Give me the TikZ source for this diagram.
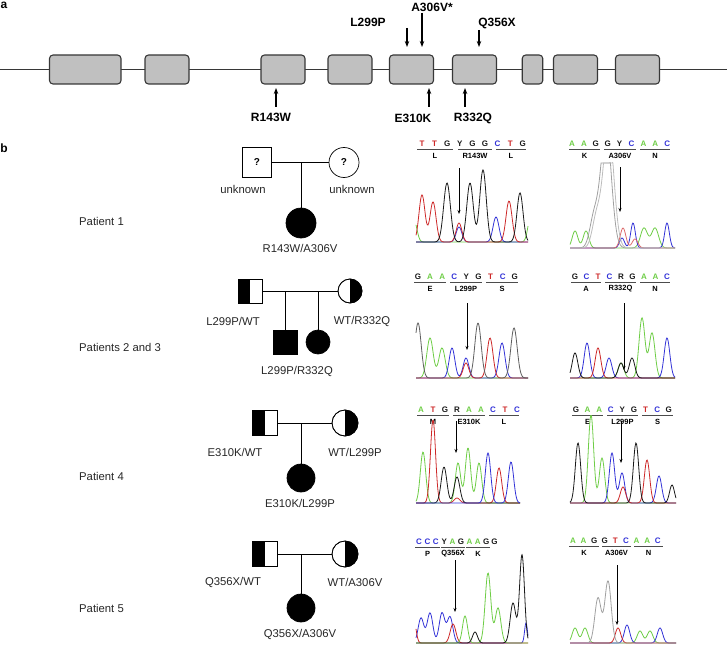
\documentclass[tikz,border=0pt]{standalone}
\usepackage{fontspec}
\setmainfont{Liberation Sans}
\usetikzlibrary{arrows.meta}
\definecolor{cR}{RGB}{205,40,40}
\definecolor{cG}{RGB}{110,205,70}
\definecolor{cB}{RGB}{50,50,215}
\definecolor{cK}{RGB}{25,25,25}
\definecolor{cS}{RGB}{160,160,160}
\definecolor{exonfill}{RGB}{192,192,192}
\definecolor{exonline}{RGB}{55,55,55}
\newcommand\seqrow[5]{%
  \foreach \l/\c [count=\i] in {#5} \node[seqlet,text=\c] (#1-\i) at ({#2+(\i-1)*#3},#4) {\l};}
\newcommand\codonlab[5]{%
  \draw[seqline] (#2,#4) -- (#3,#4);
  \node[aalab] (#1) at ({(#2+#3)/2},#4+6) {#5};}
\newcommand\trace[4]{\draw[#1,tracel] plot[domain=#2,samples=170,smooth] (\x,{#3-(#4)});}
\begin{document}
\begin{tikzpicture}[x=1pt,y=-1pt,
  declare function={g(\x,\c,\h,\w)=\h*exp(-min(((\x-\c)/\w)^2,30));},
  exon/.style={draw=exonline,fill=exonfill,rounded corners=3.5pt,line width=1.1pt,inner sep=0pt,minimum height=29pt},
  backbone/.style={draw=exonline,line width=1.1pt},
  mutlab/.style={font=\fontsize{12}{12}\selectfont\bfseries,inner sep=0pt},
  mutarrow/.style={line width=1.1pt,-{Stealth[length=6pt,width=4.5pt]}},
  panlab/.style={font=\fontsize{12}{12}\selectfont\bfseries,inner sep=0pt},
  pedlab/.style={font=\fontsize{11.3}{12}\selectfont,inner sep=0pt,text=black!85},
  sq/.style={draw,line width=0.7pt,minimum size=#1,inner sep=0pt,fill=white},
  circ/.style={draw,circle,line width=0.7pt,minimum size=#1,inner sep=0pt,fill=white},
  pedline/.style={line width=0.7pt},
  seqlet/.style={font=\fontsize{8}{8}\selectfont\bfseries,inner sep=0pt},
  aalab/.style={font=\fontsize{7.5}{8}\selectfont\bfseries,inner sep=0pt},
  seqline/.style={line width=0.8pt,draw=black!70},
  tracel/.style={line width=0.8pt},
  chromarrow/.style={line width=0.6pt,-{Stealth[length=4pt,width=3pt]}}
]
\useasboundingbox (0,0) rectangle (727,655);
% ---------------- panel a ----------------
\node[panlab] (la) at (4,5) {a};
\coordinate (bbL) at (0,69.5);
\coordinate (bbR) at (727,69.5);
\draw[backbone] (bbL) -- (bbR);
\node[exon,minimum width=71.5pt] (e1) at (85.25,69.5) {};
\node[exon,minimum width=44pt] (e2) at (167,69.5) {};
\node[exon,minimum width=44pt] (e3) at (283,69.5) {};
\node[exon,minimum width=44pt] (e4) at (350,69.5) {};
\node[exon,minimum width=44pt] (e5) at (411.5,69.5) {};
\node[exon,minimum width=44pt] (e6) at (474.5,69.5) {};
\node[exon,minimum width=20.5pt] (e7) at (532.5,69.5) {};
\node[exon,minimum width=44pt] (e8) at (575.5,69.5) {};
\node[exon,minimum width=44pt] (e9) at (637.5,69.5) {};
% mutations above
\node[mutlab] (mL299P) at (368,22) {L299P};
\node[mutlab] (mA306V) at (432,7) {A306V*};
\node[mutlab] (mQ356X) at (497,23) {Q356X};
\coordinate (tL299P) at (407,28); \coordinate (hL299P) at (407,47);
\coordinate (tA306V) at (422,13); \coordinate (hA306V) at (422,47);
\coordinate (tQ356X) at (479,30); \coordinate (hQ356X) at (479,47);
\draw[mutarrow] (tL299P) -- (hL299P);
\draw[mutarrow] (tA306V) -- (hA306V);
\draw[mutarrow] (tQ356X) -- (hQ356X);
% mutations below
\node[mutlab] (mR143W) at (271,117) {R143W};
\node[mutlab] (mE310K) at (413,118) {E310K};
\node[mutlab] (mR332Q) at (473,118) {R332Q};
\coordinate (tR143W) at (276,107); \coordinate (hR143W) at (276,88);
\coordinate (tE310K) at (429,107); \coordinate (hE310K) at (429,88);
\coordinate (tR332Q) at (465,107); \coordinate (hR332Q) at (465,88);
\draw[mutarrow] (tR143W) -- (hR143W);
\draw[mutarrow] (tE310K) -- (hE310K);
\draw[mutarrow] (tR332Q) -- (hR332Q);
% ---------------- panel b ----------------
\node[panlab] (lb) at (4,148) {b};
\node[pedlab,anchor=west] (p1) at (79,221) {Patient 1};
\node[pedlab,anchor=west] (p23) at (79,347) {Patients 2 and 3};
\node[pedlab,anchor=west] (p4) at (79,476) {Patient 4};
\node[pedlab,anchor=west] (p5) at (79,608) {Patient 5};
% pedigree 1
\node[sq=29.5pt] (f1) at (257,162.5) {\bfseries ?};
\node[circ=30pt] (m1) at (344,162.5) {\bfseries ?};
\node[circ=30pt,fill=black] (c1) at (301,223) {};
\draw[pedline] (f1.east) -- (m1.west);
\draw[pedline] (c1.north |- f1.east) -- (c1.north);
\node[pedlab] (uf1) at (243,189) {unknown};
\node[pedlab] (um1) at (352,189) {unknown};
\node[pedlab] (g1) at (300,248) {R143W/A306V};
% pedigree 2
\node[sq=24pt] (f2) at (250,291) {};
\node[circ=24pt] (m2) at (350,291) {};
\fill (f2.north west) rectangle (f2.south);
\begin{scope}\clip (350,291) circle[radius=12]; \fill (350,278) rectangle (364,304);\end{scope}
\node[sq=24pt,fill=none] at (250,291) {};
\node[circ=24pt,fill=none] at (350,291) {};
\node[sq=24pt,fill=black] (c2a) at (285,342) {};
\node[circ=24pt,fill=black] (c2b) at (318,342) {};
\draw[pedline] (f2.east) -- (m2.west);
\draw[pedline] (c2a.north |- f2.east) -- (c2a.north);
\draw[pedline] (c2b.north |- f2.east) -- (c2b.north);
\node[pedlab] (gf2) at (233,321) {L299P/WT};
\node[pedlab] (gm2) at (362,321) {WT/R332Q};
\node[pedlab] (gc2) at (297,371) {L299P/R332Q};
% pedigree 3
\node[sq=25pt] (f3) at (265,423) {};
\node[circ=26pt] (m3) at (345,423) {};
\fill (f3.north west) rectangle (f3.south);
\begin{scope}\clip (345,423) circle[radius=13]; \fill (345,409) rectangle (359,437);\end{scope}
\node[sq=25pt,fill=none] at (265,423) {};
\node[circ=26pt,fill=none] at (345,423) {};
\node[circ=28pt,fill=black] (c3) at (301,478) {};
\draw[pedline] (f3.east) -- (m3.west);
\draw[pedline] (c3.north |- f3.east) -- (c3.north);
\node[pedlab] (gf3) at (235,452) {E310K/WT};
\node[pedlab] (gm3) at (355,452) {WT/L299P};
\node[pedlab] (gc3) at (300,503) {E310K/L299P};
% pedigree 4
\node[sq=25pt] (f4) at (265,554) {};
\node[circ=26pt] (m4) at (345,554) {};
\fill (f4.north west) rectangle (f4.south);
\begin{scope}\clip (345,554) circle[radius=13]; \fill (345,540) rectangle (359,568);\end{scope}
\node[sq=25pt,fill=none] at (265,554) {};
\node[circ=26pt,fill=none] at (345,554) {};
\node[circ=28pt,fill=black] (c4) at (301,608) {};
\draw[pedline] (f4.east) -- (m4.west);
\draw[pedline] (c4.north |- f4.east) -- (c4.north);
\node[pedlab] (gf4) at (233,582) {Q356X/WT};
\node[pedlab] (gm4) at (355,582) {WT/A306V};
\node[pedlab] (gc4) at (300,634) {Q356X/A306V};
% ---------------- chromatograms ----------------
% P11 R143W
\seqrow{s11}{422}{12.6}{144}{T/cR,T/cR,G/cK,Y/cK,G/cK,G/cK,C/cB,T/cR,G/cK}
\codonlab{a11a}{417}{453}{149.5}{L}
\codonlab{a11b}{458}{492}{149.5}{R143W}
\codonlab{a11c}{496}{526}{149.5}{L}
\trace{cG}{416:528}{242}{g(\x,414,22,4)+g(\x,531,28,4)}
\trace{cB}{416:528}{242}{g(\x,459,15,4)+g(\x,496,25,4.2)}
\trace{cR}{416:528}{242}{g(\x,422,47,4.3)+g(\x,433,40,4.3)+g(\x,459,19,4)+g(\x,509,41,4.3)}
\trace{cK}{416:528}{242}{g(\x,447,59,4.8)+g(\x,470,59,4.6)+g(\x,483,72,4.6)+g(\x,520,49,4.3)}
\coordinate (ar11t) at (459,168); \coordinate (ar11h) at (459,214);
\draw[chromarrow] (ar11t) -- (ar11h);
% P12 A306V
\seqrow{s12}{572}{11.9}{144}{A/cG,A/cG,G/cK,G/cK,Y/cK,C/cB,A/cG,A/cG,C/cB}
\codonlab{a12a}{569}{600}{149.5}{K}
\codonlab{a12b}{604}{636}{149.5}{A306V}
\codonlab{a12c}{640}{670}{149.5}{N}
\trace{cG}{570:675}{248}{g(\x,575,17,4)+g(\x,586,17,4)+g(\x,644,20,5)+g(\x,655,20,5)}
\trace{cB}{570:675}{248}{g(\x,622,10,3.5)+g(\x,633,25,3.3)+g(\x,667,25,3.3)}
\trace{cR!70}{570:675}{248}{g(\x,623,20,4)+g(\x,635,9,4)}
\trace{cS}{570:675}{248}{min(g(\x,606,120,7.5)+g(\x,594,30,6),85)}
\trace{cS!70}{570:675}{248}{min(g(\x,608.5,120,7.5)+g(\x,596.5,30,6),85)}
\coordinate (ar12t) at (620,167); \coordinate (ar12h) at (620,212);
\draw[chromarrow] (ar12t) -- (ar12h);
% P21 L299P
\seqrow{s21}{418}{12.1}{277}{G/cK,A/cG,A/cG,C/cB,Y/cK,G/cK,T/cR,C/cB,G/cK}
\codonlab{a21a}{414}{446}{282.5}{E}
\codonlab{a21b}{450}{482}{282.5}{L299P}
\codonlab{a21c}{486}{518}{282.5}{S}
\trace{cG}{416:528}{378}{g(\x,430,40,4.5)+g(\x,442,30,4.5)}
\trace{cB}{416:528}{378}{g(\x,452,30,4)+g(\x,466,20,4)+g(\x,502,35,4.2)}
\trace{cR}{416:528}{378}{g(\x,466,15,4)+g(\x,490,40,4.2)}
\trace{cK!70}{416:528}{378}{g(\x,418,55,4.5)+g(\x,478,55,4.5)+g(\x,514,50,4.5)}
\coordinate (ar21t) at (467,303); \coordinate (ar21h) at (467,350);
\draw[chromarrow] (ar21t) -- (ar21h);
% P22 R332Q
\seqrow{s22}{575}{11.5}{277}{G/cK,C/cB,T/cR,C/cB,R/cK,G/cK,A/cG,A/cG,C/cB}
\codonlab{a22a}{571}{601}{282.5}{A}
\codonlab{a22b}{605}{636}{282.5}{R332Q}
\codonlab{a22c}{640}{670}{282.5}{N}
\trace{cG}{570:675}{378}{g(\x,621,15,4)+g(\x,642,60,4.2)+g(\x,652,45,4.2)}
\trace{cB}{570:675}{378}{g(\x,587,35,4)+g(\x,609,20,4)+g(\x,667,40,4)}
\trace{cR}{570:675}{378}{g(\x,598,30,4)}
\trace{cK}{570:675}{378}{g(\x,575,25,4)+g(\x,621,15,4)+g(\x,632,20,4)}
\coordinate (ar22t) at (624,303); \coordinate (ar22h) at (624,370);
\draw[chromarrow] (ar22t) -- (ar22h);
% P31 E310K
\seqrow{s31}{421}{12}{410}{A/cG,T/cR,G/cK,R/cK,A/cG,A/cG,C/cB,T/cR,C/cB}
\codonlab{a31a}{417}{449}{415.5}{M}
\codonlab{a31b}{453}{485}{415.5}{E310K}
\codonlab{a31c}{489}{519}{415.5}{L}
\trace{cG}{416:520}{503}{g(\x,423,51,3.8)+g(\x,458,40,3.8)+g(\x,468,55,3.8)+g(\x,479,40,3.8)}
\trace{cR}{416:520}{503}{g(\x,433,83,3.6)+g(\x,457,5,4)+g(\x,499,35,3.8)}
\trace{cK}{416:520}{503}{g(\x,444,36,4)+g(\x,457,26,4)}
\trace{cB}{416:520}{503}{g(\x,488,50,3.8)+g(\x,511,41,3.8)}
\coordinate (ar31t) at (456,421); \coordinate (ar31h) at (456,453);
\draw[chromarrow] (ar31t) -- (ar31h);
% P32 L299P
\seqrow{s32}{576}{11.6}{410}{G/cK,A/cG,A/cG,C/cB,Y/cK,G/cK,T/cR,C/cB,G/cK}
\codonlab{a32a}{572}{603}{415.5}{E}
\codonlab{a32b}{607}{638}{415.5}{L299P}
\codonlab{a32c}{642}{673}{415.5}{S}
\trace{cG}{570:676}{503}{g(\x,591,88,3.8)+g(\x,602,45,3.8)}
\trace{cB}{570:676}{503}{g(\x,612,50,3.8)+g(\x,622,30,3.8)+g(\x,659,27,3.8)}
\trace{cR}{570:676}{503}{g(\x,623,16,3.8)+g(\x,647,43,3.8)}
\trace{cK}{570:676}{503}{g(\x,578,60,3.8)+g(\x,636,60,3.8)+g(\x,672,18,3.5)}
\coordinate (ar32t) at (621,421); \coordinate (ar32h) at (621,463);
\draw[chromarrow] (ar32t) -- (ar32h);
% P41 Q356X
\seqrow{s41}{419}{8.4}{542}{C/cB,C/cB,C/cB,Y/cK,A/cG,G/cK,A/cG,A/cG,G/cK,G/cK}
\codonlab{a41a}{415}{440}{547.5}{P}
\codonlab{a41b}{441}{465}{547.5}{Q356X}
\codonlab{a41c}{466}{490}{547.5}{K}
\trace{cB}{416:528}{643}{g(\x,421,25,4)+g(\x,430,30,4)+g(\x,442,30,4)+g(\x,450,26,4)+g(\x,526,20,2)}
\trace{cR}{416:528}{643}{g(\x,414,22,3)+g(\x,453,19,4)}
\trace{cG}{416:528}{643}{g(\x,465,27,3.5)+g(\x,488,70,4)+g(\x,498,35,4)}
\trace{cK}{416:528}{643}{g(\x,475,11,3.5)+g(\x,513,40,4)+g(\x,522,88,3.5)}
\coordinate (ar41t) at (455,560); \coordinate (ar41h) at (455,612);
\draw[chromarrow] (ar41t) -- (ar41h);
% P42 A306V
\seqrow{s42}{573}{10.6}{541}{A/cG,A/cG,G/cK,G/cK,T/cR,C/cB,A/cG,A/cG,C/cB}
\codonlab{a42a}{569}{599}{546.5}{K}
\codonlab{a42b}{602}{631}{546.5}{A306V}
\codonlab{a42c}{634}{663}{546.5}{N}
\trace{cG}{570:676}{643}{g(\x,575,15,4)+g(\x,585,15,4)+g(\x,640,12,4)+g(\x,650,12,4)}
\trace{cB}{570:676}{643}{g(\x,627,18,3.8)+g(\x,660,15,3.8)}
\trace{cR}{570:676}{643}{g(\x,618,15,3.8)}
\trace{cS}{570:676}{643}{g(\x,598,45,4.5)+g(\x,608,62,4.5)}
\coordinate (ar42t) at (617,565); \coordinate (ar42h) at (617,625);
\draw[chromarrow] (ar42t) -- (ar42h);
\end{tikzpicture}
\end{document}
